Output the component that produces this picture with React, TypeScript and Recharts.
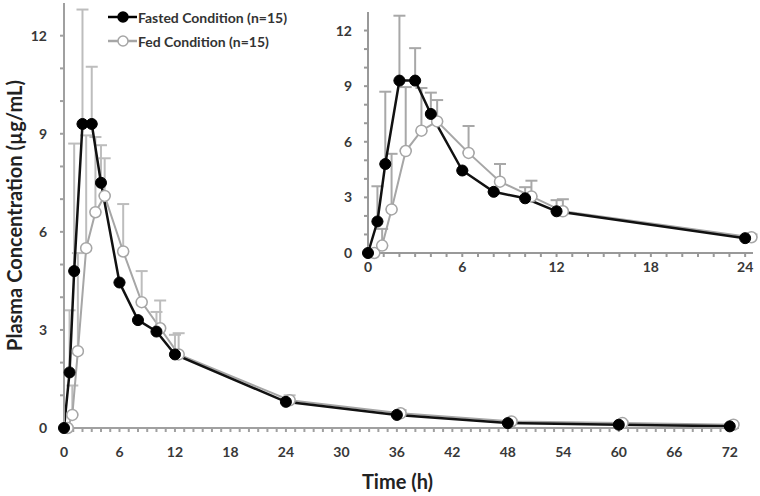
import { LineChart, Line, XAxis, YAxis, ErrorBar } from "recharts";

// fasted condition (n=15)
const fastedTimes = [0, 0.6, 1.1, 2, 3, 4, 6, 8, 10, 12, 24, 36, 48, 60, 72];
const fastedConc = [0, 1.7, 4.8, 9.3, 9.3, 7.5, 4.45, 3.3, 2.95, 2.25, 0.8, 0.4, 0.15, 0.1, 0.05];
const fastedSD = [0, 1.9, 3.9, 3.5, 1.75, 1.15, 0, 0, 0.6, 0.6, 0.1, 0.05, 0.05, 0.05, 0.05];

// fed condition (n=15), plotted slightly offset
const fedTimes = [0.4, 0.9, 1.5, 2.4, 3.4, 4.4, 6.4, 8.4, 10.4, 12.4, 24.4, 36.4, 48.4, 60.4, 72.4];
const fedConc = [0, 0.4, 2.35, 5.5, 6.6, 7.1, 5.4, 3.85, 3.05, 2.25, 0.85, 0.45, 0.2, 0.15, 0.1];
const fedSD = [0, 0.9, 3.0, 3.45, 2.3, 1.15, 1.45, 0.95, 0.85, 0.65, 0.15, 0.1, 0.05, 0.05, 0.05];

const mainXTicks = Array.from({ length: 73 }, (_, i) => i);
const insetXTicks = Array.from({ length: 25 }, (_, i) => i);
const yTicks = Array.from({ length: 13 }, (_, i) => i);

const fasted = fastedTimes.map((t, i) => ({ t, c: fastedConc[i], err: [0, fastedSD[i]] }));
const fed = fedTimes.map((t, i) => ({ t, c: fedConc[i], err: [0, fedSD[i]] }));
const fastedInset = fasted.filter((d) => d.t <= 24.5);
const fedInset = fed.filter((d) => d.t <= 24.5);

const FONT = "Lato, 'Open Sans', sans-serif";
const tickStyle = { fontFamily: FONT, fontWeight: 700, fontSize: 14, fill: "#383838" };
const every = (n: number) => (v: number) => (v % n === 0 ? String(v) : "");

const legendItems = [
  { name: "Fasted Condition (n=15)", fill: "#000", stroke: "#000" },
  { name: "Fed Condition (n=15)", fill: "#fff", stroke: "#a6a6a6" },
];

const LegendBox = () => (
  <div
    style={{
      position: "absolute",
      left: 108,
      top: 5,
      fontFamily: FONT,
      fontWeight: 700,
      fontSize: 14,
      color: "#333",
    }}
  >
    {legendItems.map((it) => (
      <div key={it.name} style={{ display: "flex", alignItems: "center", height: 24 }}>
        <svg width={30} height={14}>
          <line x1={0} y1={7} x2={29} y2={7} stroke={it.stroke} strokeWidth={2.5} />
          <circle cx={15} cy={7} r={5} fill={it.fill} stroke={it.stroke} strokeWidth={1.5} />
        </svg>
        <span>{it.name}</span>
      </div>
    ))}
  </div>
);

export default function App() {
  return (
    <div style={{ position: "absolute", left: 0, top: 0, width: 760, height: 496, background: "#fff" }}>
      <LineChart width={760} height={496} margin={{ top: 3, right: 21, left: 0, bottom: 0 }}>
        <XAxis
          type="number"
          dataKey="t"
          domain={[0, 73]}
          ticks={mainXTicks}
          interval={0}
          tickFormatter={every(6)}
          tick={tickStyle}
          tickSize={4}
          tickMargin={15}
          height={68}
          stroke="#a0a0a0"
          strokeWidth={2}
          label={{
            value: "Time (h)",
            position: "center",
            dx: -4,
            dy: 20,
            style: { fontFamily: FONT, fontWeight: 700, fontSize: 20, fill: "#222" },
          }}
        />
        <YAxis
          type="number"
          domain={[0, 13]}
          ticks={yTicks}
          interval={0}
          tickFormatter={every(3)}
          tick={tickStyle}
          tickSize={4}
          tickMargin={13}
          width={64}
          stroke="#a0a0a0"
          strokeWidth={2}
          label={{
            value: "Plasma Concentration (µg/mL)",
            angle: -90,
            position: "center",
            dx: -17,
            style: { fontFamily: FONT, fontWeight: 700, fontSize: 20, fill: "#222", textAnchor: "middle" },
          }}
        />
        <Line
          data={fed}
          dataKey="c"
          stroke="#a6a6a6"
          strokeWidth={2}
          dot={{ r: 5.5, fill: "#fff", stroke: "#a6a6a6", strokeWidth: 1.5 }}
          isAnimationActive={false}
        >
          <ErrorBar dataKey="err" direction="y" width={6} stroke="#bdbdbd" strokeWidth={2} />
        </Line>
        <Line
          data={fasted}
          dataKey="c"
          stroke="#111"
          strokeWidth={2.5}
          dot={{ r: 5.5, fill: "#000", stroke: "#000", strokeWidth: 1 }}
          isAnimationActive={false}
        >
          <ErrorBar dataKey="err" direction="y" width={6} stroke="#bdbdbd" strokeWidth={2} />
        </Line>
      </LineChart>

      <LegendBox />

      <div style={{ position: "absolute", left: 310, top: 0 }}>
        <LineChart width={450} height={290} margin={{ top: 12, right: 7, left: 0, bottom: 0 }}>
          <XAxis
            type="number"
            dataKey="t"
            domain={[0, 24.5]}
            ticks={insetXTicks}
            interval={0}
            tickFormatter={every(6)}
            tick={tickStyle}
            tickSize={4}
            tickMargin={5}
            height={37}
            stroke="#999"
            strokeWidth={2}
          />
          <YAxis
            type="number"
            domain={[0, 13]}
            ticks={yTicks}
            interval={0}
            tickFormatter={every(3)}
            tick={tickStyle}
            tickSize={4}
            tickMargin={12}
            width={58}
            stroke="#999"
            strokeWidth={2}
          />
          <Line
            data={fedInset}
            dataKey="c"
            stroke="#a6a6a6"
            strokeWidth={2}
            dot={{ r: 5.5, fill: "#fff", stroke: "#a6a6a6", strokeWidth: 1.5 }}
            isAnimationActive={false}
          >
            <ErrorBar dataKey="err" direction="y" width={6} stroke="#a8a8a8" strokeWidth={2} />
          </Line>
          <Line
            data={fastedInset}
            dataKey="c"
            stroke="#111"
            strokeWidth={2.5}
            dot={{ r: 5.5, fill: "#000", stroke: "#000", strokeWidth: 1 }}
            isAnimationActive={false}
          >
            <ErrorBar dataKey="err" direction="y" width={6} stroke="#a8a8a8" strokeWidth={2} />
          </Line>
        </LineChart>
      </div>
    </div>
  );
}
